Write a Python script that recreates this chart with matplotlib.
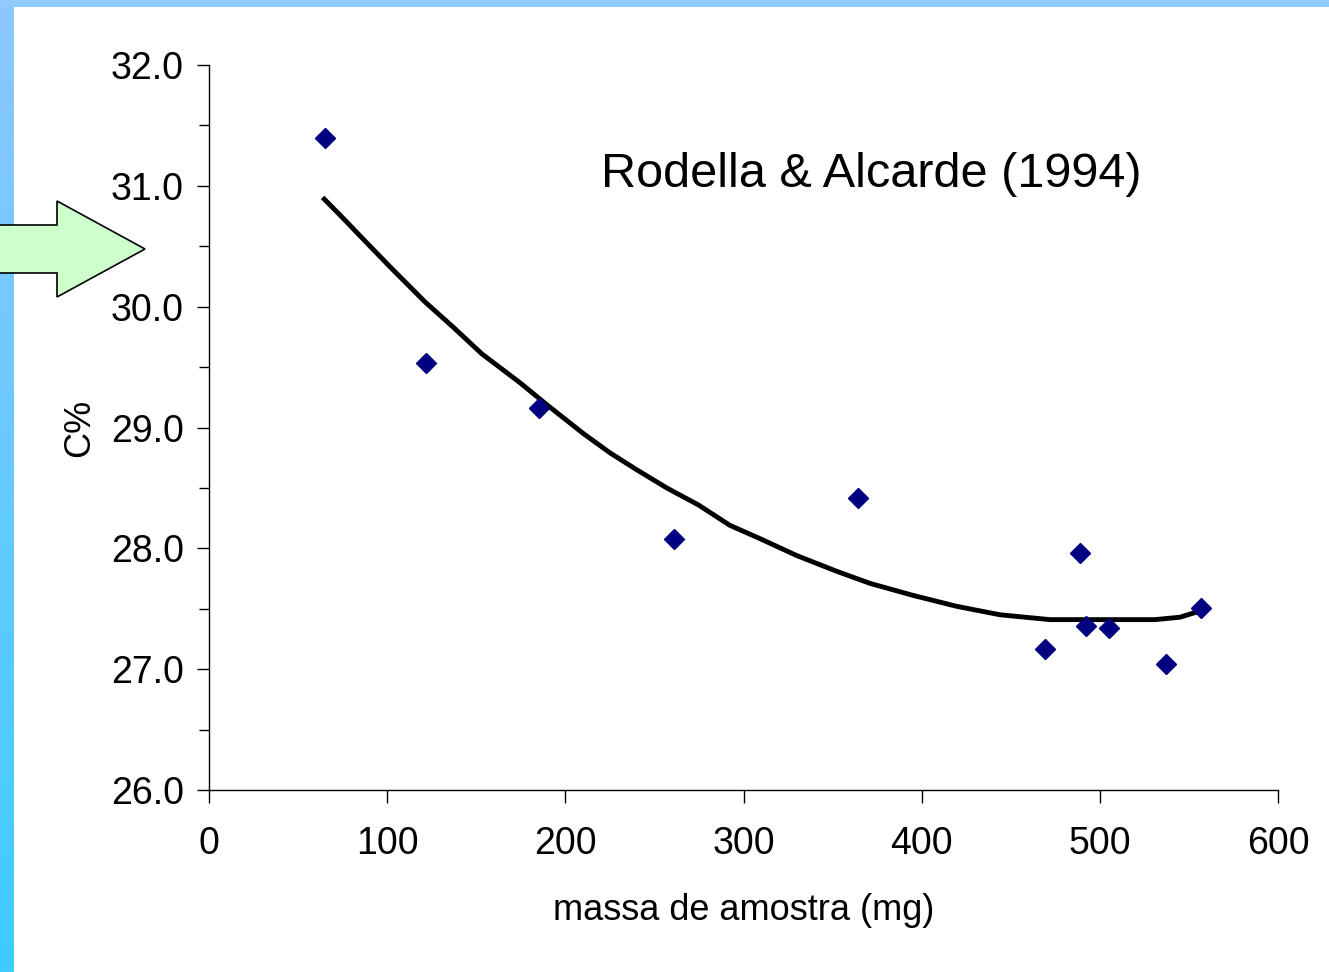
import numpy as np
import matplotlib.pyplot as plt
from matplotlib.patches import Polygon, Rectangle
from matplotlib.colors import LinearSegmentedColormap

plt.rcParams['font.family'] = ['Liberation Sans', 'DejaVu Sans']

# measured points
massa = [65, 122, 185, 261, 364, 469, 489, 492, 505, 537, 557]
carbono = [31.40, 29.53, 29.16, 28.08, 28.42, 27.17, 27.96, 27.36, 27.34, 27.04, 27.51]

# trend line
trend_x = [64.7, 75.4, 90.4, 101.6, 121.2, 137.1, 153.1, 174.6, 189.5, 210.1, 225.1,
           240.1, 256.9, 274.6, 292.4, 309.3, 329.9, 352.3, 371.0, 395.3, 419.7,
           444.0, 472.0, 500.1, 531.0, 545.0, 556.0]
trend_y = [30.89, 30.73, 30.50, 30.33, 30.04, 29.83, 29.61, 29.37, 29.19, 28.95, 28.79,
           28.65, 28.50, 28.36, 28.19, 28.08, 27.94, 27.81, 27.71, 27.61, 27.52,
           27.45, 27.41, 27.41, 27.41, 27.43, 27.48]

xticks = [0, 100, 200, 300, 400, 500, 600]
yticks = [26.0, 27.0, 28.0, 29.0, 30.0, 31.0, 32.0]

W, H = 1329, 972
fig = plt.figure(figsize=(W / 100, H / 100), dpi=100)

# blue frame: top bar + left gradient strip
fig.patches.append(Rectangle((0, 1 - 7 / H), 1, 7 / H, transform=fig.transFigure,
                             facecolor='#90CAFF', edgecolor='none', zorder=0))
strip = fig.add_axes([0, 0, 14 / W, 1 - 7 / H])
grad = np.linspace(0, 1, 256).reshape(-1, 1)
cm = LinearSegmentedColormap.from_list('b', ['#8CC8FF', '#3FCCFF'])
strip.imshow(grad, aspect='auto', cmap=cm, extent=[0, 1, 1, 0])
strip.axis('off')

ax = fig.add_axes([209 / W, 1 - 790 / H, (1278 - 209) / W, (790 - 65) / H])
ax.plot(trend_x, trend_y, color='black', lw=3.5, zorder=2)
ax.plot(massa, carbono, linestyle='none', marker='D', ms=10, color='#000080', zorder=3)

ax.set_xlim(0, 600)
ax.set_ylim(26, 32)
ax.set_xticks(xticks)
ax.set_xticklabels([str(v) for v in xticks])
ax.set_yticks(yticks)
ax.set_yticklabels([f'{v:.1f}' for v in yticks])
ax.set_yticks(np.arange(26.5, 32, 1.0), minor=True)
for s in ['top', 'right']:
    ax.spines[s].set_visible(False)
for s in ['left', 'bottom']:
    ax.spines[s].set_linewidth(1.0)
ax.tick_params(axis='both', which='major', direction='out', length=9, width=1.0,
               labelsize=27)
ax.tick_params(axis='x', pad=17)
ax.tick_params(axis='y', pad=9)
ax.tick_params(axis='y', which='minor', direction='out', length=7, width=1.0)

ax.set_xlabel('massa de amostra (mg)', fontsize=26, labelpad=22)
ax.set_ylabel('C%', fontsize=26, labelpad=10)

ax.text(220, 31.09, 'Rodella & Alcarde (1994)', fontsize=35, ha='left', va='center')

# green arrow at left
pts = [(-5, 225), (57, 225), (57, 201), (145, 249), (57, 297), (57, 273), (-5, 273)]
arrow = Polygon([(x / W, 1 - y / H) for x, y in pts], closed=True, transform=fig.transFigure,
                facecolor='#CCFFCC', edgecolor='black', lw=1.2, zorder=5)
fig.patches.append(arrow)

fig.savefig('out.png', dpi=100)
